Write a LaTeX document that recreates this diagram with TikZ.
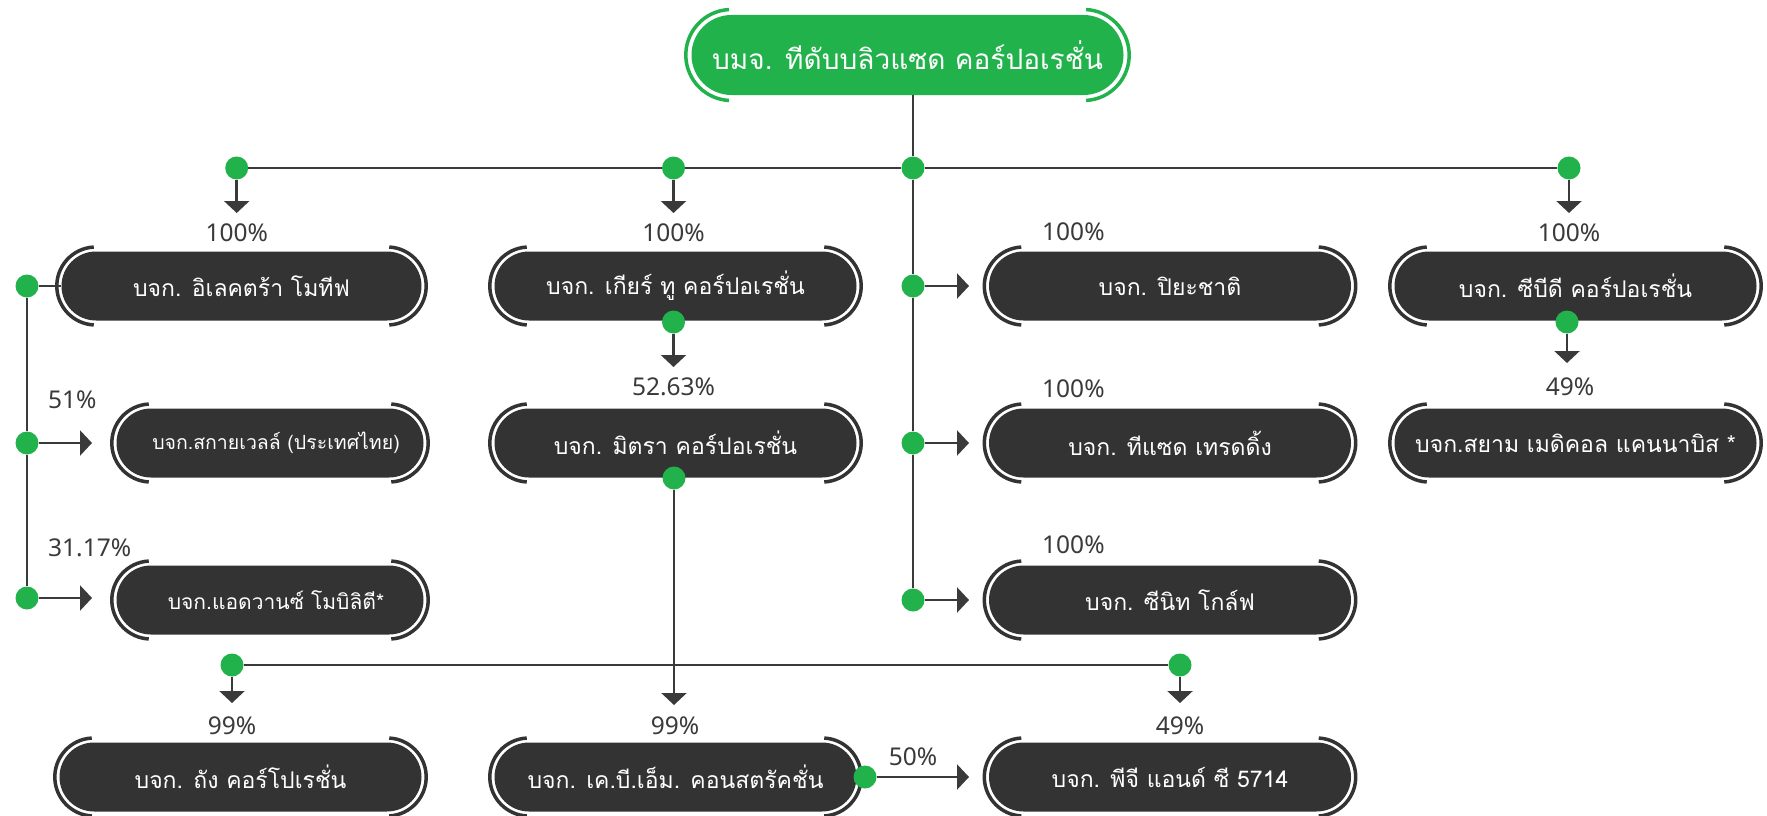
\documentclass[tikz,border=0pt]{standalone}
\usepackage{fontspec}
\setmainfont{Noto Sans}
\newfontfamily\thai[Script=Thai]{Loma}
\usetikzlibrary{shapes.misc,arrows.meta,calc}
\definecolor{grn}{HTML}{22B24C}
\definecolor{dk}{HTML}{333333}
\definecolor{ln}{HTML}{3A3A3A}
\tikzset{
 box/.style={rounded rectangle, fill=dk, text=white, minimum height=69pt, minimum width=362pt, inner sep=0pt, font=\thai\fontsize{23}{27}\selectfont},
 topbox/.style={rounded rectangle, fill=grn, text=white, minimum height=80pt, minimum width=432pt, inner sep=0pt, font=\thai\fontsize{28}{34}\selectfont},
 dot/.style={circle, fill=grn, minimum size=23pt, inner sep=0pt},
 conn/.style={draw=ln, line width=2.5pt},
 arr/.style={conn, -{Triangle[length=12pt,width=25pt]}},
 pct/.style={text=ln, font=\fontsize{24.5}{28}\selectfont, inner sep=0pt},
}
\newcommand\orgbrk[4]{%
 \draw[line width=3.5pt, draw=#4] ($(#1.west)+(#2,0)+(93:#3)$) arc[start angle=93,end angle=267,radius=#3];
 \draw[line width=3.5pt, draw=#4] ($(#1.east)+(-#2,0)+(-87:#3)$) arc[start angle=-87,end angle=87,radius=#3];}
\begin{document}
\begin{tikzpicture}[x=1pt,y=1pt]
\fill[white] (0,0) rectangle (1767,-816);
\useasboundingbox (0,0) rectangle (1767,-816);
% boxes
\node[topbox] (top) at (907.5,-55) {บมจ. ทีดับบลิวแซด คอร์ปอเรชั่น};
\node[box, minimum width=360pt] (n1) at (241.5,-286) {บจก. อิเลคตร้า โมทีฟ};
\node[box] (n2) at (675.5,-286) {บจก. เกียร์ ทู คอร์ปอเรชั่น};
\node[box] (n3) at (1170,-286) {บจก. ปิยะชาติ};
\node[box] (n4) at (1575.5,-286) {บจก. ซีบีดี คอร์ปอเรชั่น};
\node[box, minimum width=307pt, font=\thai\fontsize{19.5}{24}\selectfont] (n5) at (270,-443) {\hspace*{12pt}บจก.สกายเวลล์ (ประเทศไทย)};
\node[box] (n6) at (675.5,-443) {บจก. มิตรา คอร์ปอเรชั่น};
\node[box] (n7) at (1170,-443) {บจก. ทีแซด เทรดดิ้ง};
\node[box] (n8) at (1575.5,-443) {บจก.สยาม เมดิคอล แคนนาบิส *};
\node[box, minimum width=307pt, font=\thai\fontsize{21}{25}\selectfont] (n9) at (270,-600) {\hspace*{12pt}บจก.แอดวานซ์ โมบิลิตี*};
\node[box] (n10) at (1170,-600) {บจก. ซีนิท โกล์ฟ};
\node[box] (n11) at (240.5,-777) {บจก. ถัง คอร์โปเรชั่น};
\node[box] (n12) at (675.5,-777) {บจก. เค.บี.เอ็ม. คอนสตรัคชั่น};
\node[box] (n13) at (1170,-777) {บจก. พีจี แอนด์ ซี 5714};
\orgbrk{top}{40}{45.5}{grn}
\foreach \n in {n1,n2,n3,n4,n5,n6,n7,n8,n9,n10,n11,n12,n13}{\orgbrk{\n}{34.5}{39}{dk}}
% dots
\node[dot] (dA) at (236.7,-168) {};
\node[dot] (dB) at (673.5,-168) {};
\node[dot] (dC) at (913,-168) {};
\node[dot] (dD) at (1569,-168) {};
\node[dot] (dC2) at (913,-286) {};
\node[dot] (dC3) at (913,-443) {};
\node[dot] (dC4) at (913,-600) {};
\node[dot] (dL1) at (27,-286) {};
\node[dot] (dL2) at (27,-443) {};
\node[dot] (dL3) at (27,-598) {};
\node[dot] (dN2) at (673.5,-322) {};
\node[dot] (dN4) at (1567,-322) {};
\node[dot] (dN6) at (674,-478) {};
\node[dot] (dE) at (232,-665) {};
\node[dot] (dF) at (1180,-665) {};
\node[dot] (dK) at (865,-777) {};
% arrow tips
\coordinate (tA) at (236.7,-213);
\coordinate (tB) at (673.5,-213);
\coordinate (tD) at (1569,-213);
\coordinate (t3) at (969,-286);
\coordinate (t7) at (969,-443);
\coordinate (t10) at (969,-600);
\coordinate (t5) at (92,-443);
\coordinate (t9) at (92,-598);
\coordinate (tN2) at (673.5,-367);
\coordinate (tN4) at (1567,-363);
\coordinate (tN6) at (674,-705);
\coordinate (tE) at (232,-703);
\coordinate (tF) at (1180,-703);
\coordinate (tK) at (969,-777);
% connectors
\draw[conn] (dC |- top.south) -- (dC);
\draw[conn] (dA) -- (dB);
\draw[conn] (dB) -- (dC);
\draw[conn] (dC) -- (dD);
\draw[conn] (dC) -- (dC2);
\draw[conn] (dC2) -- (dC3);
\draw[conn] (dC3) -- (dC4);
\draw[conn] (dL1) -- (dL2);
\draw[conn] (dL2) -- (dL3);
\draw[conn] (dL1) -- (n1);
\draw[conn] (dE) -- (dF);
\draw[arr] (dA) -- (tA);
\draw[arr] (dB) -- (tB);
\draw[arr] (dD) -- (tD);
\draw[arr] (dC2) -- (t3);
\draw[arr] (dC3) -- (t7);
\draw[arr] (dC4) -- (t10);
\draw[arr] (dL2) -- (t5);
\draw[arr] (dL3) -- (t9);
\draw[arr] (dN2) -- (tN2);
\draw[arr] (dN4) -- (tN4);
\draw[arr] (dN6) -- (tN6);
\draw[arr] (dE) -- (tE);
\draw[arr] (dF) -- (tF);
\draw[arr] (dK) -- (tK);
% labels
\node[pct] (p1) at (236.7,-233) {100\%};
\node[pct] (p2) at (673.5,-233) {100\%};
\node[pct] (p4) at (1569,-233) {100\%};
\node[pct, anchor=west] (p3) at (1042,-232) {100\%};
\node[pct, anchor=west] (p7) at (1042,-389) {100\%};
\node[pct, anchor=west] (p10) at (1042,-545) {100\%};
\node[pct, anchor=west] (p5) at (48,-400) {51\%};
\node[pct, anchor=west] (p9) at (48,-548) {31.17\%};
\node[pct] (p6) at (673.5,-387) {52.63\%};
\node[pct] (p8) at (1570,-387) {49\%};
\node[pct] (p11) at (232,-726) {99\%};
\node[pct] (p12) at (675,-726) {99\%};
\node[pct] (p13) at (1180,-726) {49\%};
\node[pct] (pK) at (913,-757) {50\%};
\end{tikzpicture}
\end{document}
